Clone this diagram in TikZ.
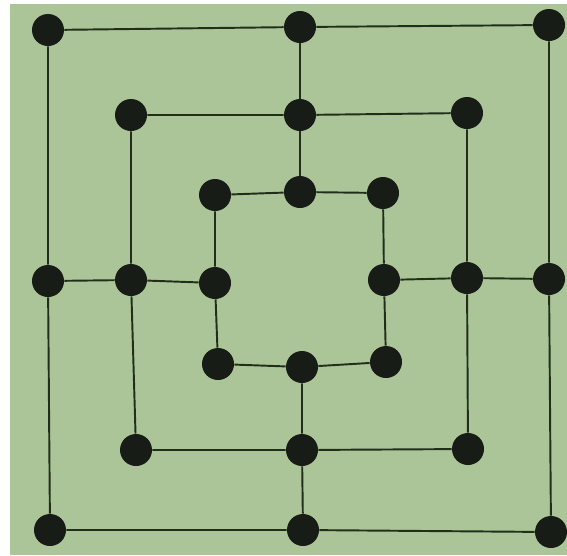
\documentclass[tikz,border=0pt]{standalone}
\definecolor{board}{RGB}{172,197,152}
\definecolor{ink}{RGB}{32,46,26}
\definecolor{stone}{RGB}{24,28,22}
\tikzset{
  pt/.style={circle, fill=stone, inner sep=0pt, minimum size=32*0.02cm},
  edge/.style={draw=ink, line width=1.1pt}
}
\begin{document}
\begin{tikzpicture}[x=0.02cm, y=-0.02cm]
  \useasboundingbox (0,0) rectangle (567,555);
  \fill[white] (0,0) rectangle (567,555);
  \fill[board] (10,4) rectangle (567,555);

  % outer square
  \node[pt] (o1) at (48,30) {};
  \node[pt] (o2) at (300,27) {};
  \node[pt] (o3) at (549,25) {};
  \node[pt] (o4) at (48,281) {};
  \node[pt] (o5) at (549,279) {};
  \node[pt] (o6) at (50,530) {};
  \node[pt] (o7) at (303,530) {};
  \node[pt] (o8) at (551,532) {};

  % middle square
  \node[pt] (m1) at (131,115) {};
  \node[pt] (m2) at (300,115) {};
  \node[pt] (m3) at (467,113) {};
  \node[pt] (m4) at (131,280) {};
  \node[pt] (m5) at (467,278) {};
  \node[pt] (m6) at (136,450) {};
  \node[pt] (m7) at (302,450) {};
  \node[pt] (m8) at (468,449) {};

  % inner square
  \node[pt] (i1) at (215,195) {};
  \node[pt] (i2) at (300,192) {};
  \node[pt] (i3) at (383,193) {};
  \node[pt] (i4) at (215,283) {};
  \node[pt] (i5) at (384,280) {};
  \node[pt] (i6) at (218,364) {};
  \node[pt] (i7) at (302,367) {};
  \node[pt] (i8) at (386,362) {};

  \foreach \s in {o,m,i} {
    \draw[edge] (\s1) -- (\s2) -- (\s3) -- (\s5) -- (\s8) -- (\s7) -- (\s6) -- (\s4) -- (\s1);
  }
  \draw[edge] (o2) -- (m2) -- (i2);
  \draw[edge] (i7) -- (m7) -- (o7);
  \draw[edge] (o4) -- (m4) -- (i4);
  \draw[edge] (i5) -- (m5) -- (o5);
\end{tikzpicture}
\end{document}
